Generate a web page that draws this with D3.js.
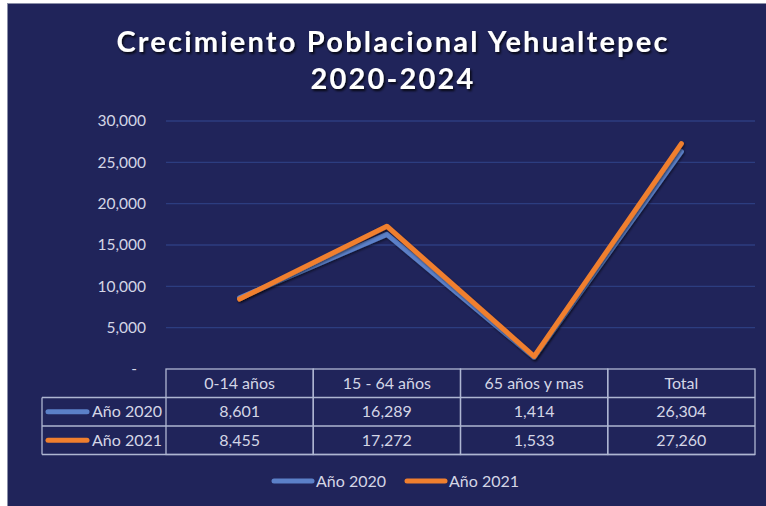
<!DOCTYPE html>
<html>
<head>
<meta charset="utf-8">
<script src="https://cdn.jsdelivr.net/npm/d3@7"></script>
<style>
  body { margin: 0; background: #fff; }
  svg { display: block; }
</style>
</head>
<body>
<div id="chart"></div>
<script>
// data
var categories = ['0-14 años', '15 - 64 años', '65 años y mas', 'Total']
var seriesNames = ['Año 2020', 'Año 2021']
var values2020 = [8601, 16289, 1414, 26304]
var values2021 = [8455, 17272, 1533, 27260]
var yTicks = [0, 5000, 10000, 15000, 20000, 25000, 30000]

var colours = ['#5b80c8', '#f07f2e']
var bg = '#20245a'
var textCol = '#d4d6e6'
var W = 766, H = 506

var svg = d3.select('#chart').append('svg')
  .attr('width', W).attr('height', H)
  .style('font-family', 'Lato, "Open Sans", sans-serif')

// frame
svg.append('rect').attr('x', 0).attr('y', 0).attr('width', W).attr('height', H).attr('fill', '#fff')
svg.append('rect').attr('x', 7).attr('y', 3).attr('width', W - 7).attr('height', H - 3).attr('fill', bg)
svg.append('line').attr('x1', 7).attr('x2', W).attr('y1', 3.5).attr('y2', 3.5).attr('stroke', '#8a8fa8').attr('stroke-width', 1)
svg.append('line').attr('x1', 7.5).attr('x2', 7.5).attr('y1', 3).attr('y2', H).attr('stroke', '#8a8fa8').attr('stroke-width', 1)

var defs = svg.append('defs')
var shadow = defs.append('filter').attr('id', 'shadow')
shadow.append('feDropShadow').attr('dx', 1.5).attr('dy', 2).attr('stdDeviation', 1.2)
  .attr('flood-color', '#000').attr('flood-opacity', 0.8)
var ls = defs.append('filter').attr('id', 'lineShadow')
ls.append('feDropShadow').attr('dx', 1).attr('dy', 1.5).attr('stdDeviation', 1)
  .attr('flood-color', '#000').attr('flood-opacity', 0.5)

// title
var title = svg.append('text')
  .attr('text-anchor', 'middle')
  .attr('fill', '#fff').attr('font-weight', 'bold').attr('font-size', 29)
  .style('letter-spacing', '2.2px')
  .attr('filter', 'url(#shadow)')
title.append('tspan').attr('x', 393).attr('y', 52).text('Crecimiento Poblacional Yehualtepec')
title.append('tspan').attr('x', 393).attr('y', 89).text('2020-2024')

var plotL = 166, plotR = 755, plotT = 121, plotB = 369
var x = d3.scaleBand().domain(categories).range([plotL, plotR])
var y = d3.scaleLinear().domain([0, 30000]).range([plotB, plotT])

// gridlines
svg.append('g').selectAll('line').data(yTicks.filter(d => d > 0)).enter()
  .append('line')
  .attr('x1', plotL).attr('x2', plotR)
  .attr('y1', d => y(d)).attr('y2', d => y(d))
  .attr('stroke', '#2c3d80').attr('stroke-width', 1.3)

// y axis labels (zero shown as a dash, accounting style)
svg.append('g').selectAll('text').data(yTicks).enter()
  .append('text')
  .attr('x', d => d === 0 ? 137 : 146).attr('y', d => y(d))
  .attr('dy', '0.35em').attr('text-anchor', 'end')
  .attr('fill', textCol).attr('font-size', 15.5)
  .text(d => d === 0 ? '-' : d3.format(',')(d))

// lines
var series = [values2020, values2021]
var line = d3.line()
  .x((d, i) => x(categories[i]) + x.bandwidth() / 2)
  .y(d => y(d))

series.forEach((s, i) => {
  svg.append('path').datum(s)
    .attr('fill', 'none')
    .attr('stroke', colours[i])
    .attr('stroke-width', 5)
    .attr('stroke-linecap', 'round')
    .attr('stroke-linejoin', 'round')
    .attr('filter', 'url(#lineShadow)')
    .attr('d', line)
})

// data table
var rowH = 28.5
var labelLeft = 42
var table = svg.append('g')
var borderCol = '#aeb6d2'
var fs = 16

categories.forEach(c => {
  table.append('rect')
    .attr('x', x(c)).attr('y', plotB)
    .attr('width', x.bandwidth()).attr('height', rowH * 3)
    .attr('fill', 'none').attr('stroke', borderCol).attr('stroke-width', 1.3)
  table.append('text')
    .attr('x', x(c) + x.bandwidth() / 2).attr('y', plotB + rowH / 2)
    .attr('dy', '0.35em').attr('text-anchor', 'middle')
    .attr('fill', textCol).attr('font-size', fs)
    .text(c)
})
;[1, 2, 3].forEach(r => {
  table.append('line')
    .attr('x1', labelLeft).attr('x2', plotR)
    .attr('y1', plotB + rowH * r).attr('y2', plotB + rowH * r)
    .attr('stroke', borderCol).attr('stroke-width', 1.3)
})
table.append('line')
  .attr('x1', labelLeft).attr('x2', labelLeft)
  .attr('y1', plotB + rowH).attr('y2', plotB + rowH * 3)
  .attr('stroke', borderCol).attr('stroke-width', 1.3)

series.forEach((s, i) => {
  var cy = plotB + rowH * (i + 1) + rowH / 2
  table.append('line')
    .attr('x1', 48).attr('x2', 87)
    .attr('y1', cy).attr('y2', cy)
    .attr('stroke', colours[i]).attr('stroke-width', 5).attr('stroke-linecap', 'round')
  table.append('text')
    .attr('x', 162).attr('y', cy).attr('dy', '0.35em')
    .attr('text-anchor', 'end').attr('fill', textCol).attr('font-size', fs)
    .text(seriesNames[i])
  s.forEach((v, j) => {
    table.append('text')
      .attr('x', x(categories[j]) + x.bandwidth() / 2).attr('y', cy)
      .attr('dy', '0.35em').attr('text-anchor', 'middle')
      .attr('fill', textCol).attr('font-size', fs)
      .text(d3.format(',')(v))
  })
})

// legend
var legendX = [274, 407]
seriesNames.forEach((n, i) => {
  var g = svg.append('g').attr('transform', 'translate(' + legendX[i] + ',481)')
  g.append('line').attr('x1', 0).attr('x2', 38).attr('y1', 0).attr('y2', 0)
    .attr('stroke', colours[i]).attr('stroke-width', 5).attr('stroke-linecap', 'round')
  g.append('text').attr('x', 42).attr('y', 0).attr('dy', '0.35em')
    .attr('fill', textCol).attr('font-size', fs).text(n)
})
</script>
</body>
</html>
